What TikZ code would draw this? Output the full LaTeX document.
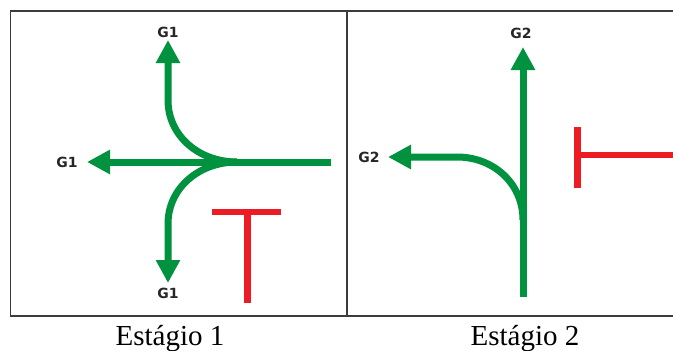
\documentclass[tikz,border=0pt]{standalone}
\usepackage{fontspec}
\setmainfont{Liberation Serif}
\newfontfamily\lblfont{DejaVu Sans}
\usetikzlibrary{arrows.meta}
\definecolor{sgreen}{RGB}{0,146,63}
\definecolor{sred}{RGB}{237,28,36}
\definecolor{sframe}{RGB}{60,60,60}
\tikzset{
  gline/.style={draw=sgreen,line width=7pt},
  garrow/.style={gline,-{Triangle[length=23pt,width=23pt]}},
  rline/.style={draw=sred,line width=6.5pt},
  glabel/.style={font=\lblfont\bfseries\fontsize{14}{14}\selectfont,text=black!85,inner sep=0pt},
  caption/.style={font=\fontsize{29}{29}\selectfont,inner sep=0pt,anchor=base},
  frame/.style={draw=sframe,line width=1.5pt}
}
\begin{document}
\begin{tikzpicture}[x=1pt,y=-1pt]
\useasboundingbox (0,0) rectangle (673,351);
% frame
\draw[frame] (673,11) -- (10.5,11) -- (10.5,316) -- (673,316);
\draw[frame] (347,11) -- (347,316);
% ---- Stage 1
\coordinate (j1) at (237,162);
\coordinate (e1) at (331,162);
\coordinate (l1) at (87,162);
\coordinate (u1) at (168,100);
\coordinate (ut) at (168,40);
\coordinate (d1) at (168,224);
\coordinate (dt) at (168,283);
\draw[garrow] (e1) -- (l1);
\draw[garrow] (j1) .. controls (199,162) and (168,136) .. (u1) -- (ut);
\draw[garrow] (j1) .. controls (199,162) and (168,188) .. (d1) -- (dt);
\node[glabel] (g1t) at (168,32) {G1};
\node[glabel] (g1l) at (67,162) {G1};
\node[glabel] (g1b) at (168,293) {G1};
\coordinate (ta) at (212,212);
\coordinate (tb) at (281,212);
\coordinate (tc) at (247,212);
\coordinate (td) at (247,303);
\draw[rline] (ta) -- (tb);
\draw[rline,line width=7pt] (tc) -- (td);
\node[caption] (c1) at (170,345) {Estágio 1};
% ---- Stage 2
\coordinate (v0) at (523,297);
\coordinate (vt) at (523,47);
\coordinate (k0) at (523,220);
\coordinate (k1) at (457,157);
\coordinate (kt) at (388,157);
\draw[garrow] (v0) -- (vt);
\draw[garrow] (k0) .. controls (523,184) and (494,157) .. (k1) -- (kt);
\node[glabel] (g2t) at (521,33) {G2};
\node[glabel] (g2l) at (369,157) {G2};
\coordinate (ra) at (577,127);
\coordinate (rb) at (577,188);
\coordinate (rc) at (577,155);
\coordinate (rd) at (673,155);
\draw[rline,line width=7pt] (ra) -- (rb);
\draw[rline] (rc) -- (rd);
\node[caption] (c2) at (525,345) {Estágio 2};
\end{tikzpicture}
\end{document}
